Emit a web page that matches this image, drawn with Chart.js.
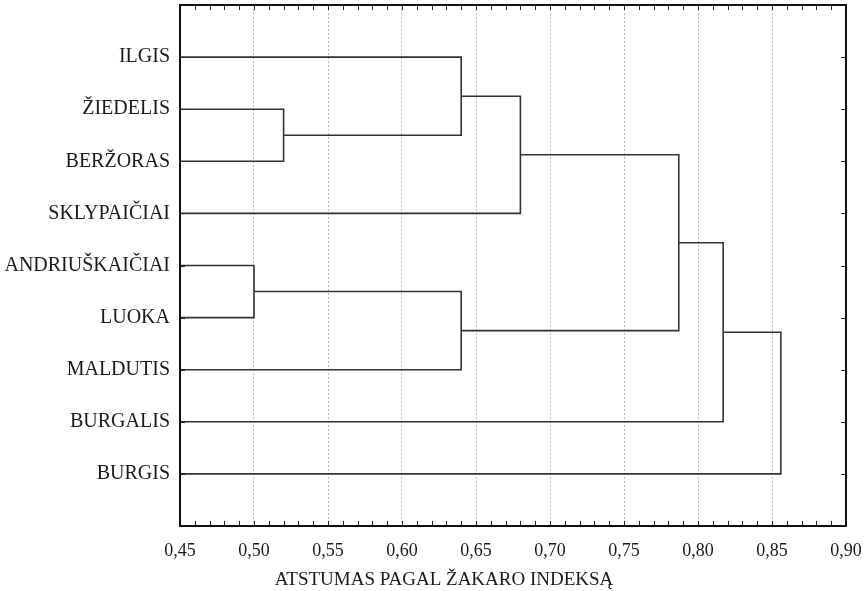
<!DOCTYPE html>
<html>
<head>
<meta charset="utf-8">
<script src="https://cdn.jsdelivr.net/npm/chart.js@4"></script>
<style>
  body { margin: 0; background: #fff; }
  canvas { display: block; }
</style>
</head>
<body>
<canvas id="dendrogram" width="868" height="591"></canvas>
<script>
// leaf order as drawn top to bottom
const leaves = ['ILGIS', 'ŽIEDELIS', 'BERŽORAS', 'SKLYPAIČIAI', 'ANDRIUŠKAIČIAI', 'LUOKA', 'MALDUTIS', 'BURGALIS', 'BURGIS'];

// linkage: node 9, 10, ... joins mergeA[i] with mergeB[i] at mergeHeight[i]
const mergeA = [1, 4, 0, 10, 11, 13, 14, 15];
const mergeB = [2, 5, 9, 6, 3, 12, 7, 8];
const mergeHeight = [0.52, 0.50, 0.64, 0.64, 0.68, 0.787, 0.817, 0.856];

const xTicks = [0.45, 0.50, 0.55, 0.60, 0.65, 0.70, 0.75, 0.80, 0.85, 0.90];
const axisTitle = 'ATSTUMAS PAGAL ŽAKARO INDEKSĄ';

const serif = '"Liberation Serif", "DejaVu Serif", serif';

// height and row position of every node (leaves first)
const nodeX = leaves.map(() => 0);
const nodeY = leaves.map((_, i) => i + 1);
mergeA.forEach((a, i) => {
    const b = mergeB[i];
    nodeX.push(mergeHeight[i]);
    nodeY.push((nodeY[a] + nodeY[b]) / 2);
});

// one elbow path per link
const links = mergeA.map((a, i) => {
    const b = mergeB[i];
    const h = mergeHeight[i];
    return {
        data: [
            {x: nodeX[a], y: nodeY[a]},
            {x: h, y: nodeY[a]},
            {x: h, y: nodeY[b]},
            {x: nodeX[b], y: nodeY[b]}
        ],
        showLine: true,
        borderColor: '#333',
        borderWidth: 1.6,
        pointRadius: 0,
        tension: 0
    };
});

const noPadding = scale => {
    scale.paddingTop = 0;
    scale.paddingBottom = 0;
    scale.paddingLeft = 0;
    scale.paddingRight = 0;
};

// box around the plot, small inward ticks and the axis caption
const frame = {
    id: 'frame',
    afterDatasetsDraw(chart) {
        const {ctx, chartArea: a, scales} = chart;
        ctx.save();
        ctx.strokeStyle = '#222';
        ctx.lineWidth = 1;
        for (let k = 45; k <= 90; k++) {
            const px = Math.round(scales.x.getPixelForValue(k / 100)) + 0.5;
            ctx.beginPath();
            ctx.moveTo(px, a.top); ctx.lineTo(px, a.top + 5);
            ctx.moveTo(px, a.bottom); ctx.lineTo(px, a.bottom - 5);
            ctx.stroke();
        }
        leaves.forEach((_, i) => {
            const py = Math.round(scales.y.getPixelForValue(i + 1)) + 0.5;
            ctx.beginPath();
            ctx.moveTo(a.right, py); ctx.lineTo(a.right - 5, py);
            ctx.moveTo(a.left, py); ctx.lineTo(a.left + 5, py);
            ctx.stroke();
        });
        ctx.lineWidth = 2;
        ctx.strokeStyle = '#111';
        ctx.strokeRect(a.left, a.top, a.right - a.left, a.bottom - a.top);

        ctx.fillStyle = '#1a1a1a';
        ctx.font = '19px ' + serif;
        ctx.textAlign = 'center';
        ctx.textBaseline = 'middle';
        ctx.fillText(axisTitle, a.left + 264, a.bottom + 54);
        ctx.restore();
    }
};

new Chart(document.getElementById('dendrogram'), {
    type: 'scatter',
    data: { datasets: links },
    options: {
        responsive: false,
        animation: false,
        layout: { padding: { left: 0, right: 22, top: 5, bottom: 25 } },
        plugins: {
            legend: { display: false },
            tooltip: { enabled: false }
        },
        scales: {
            x: {
                type: 'linear',
                min: xTicks[0],
                max: xTicks[xTicks.length - 1],
                afterBuildTicks: scale => { scale.ticks = xTicks.map(v => ({value: v})); },
                afterFit: scale => { scale.height = 40; noPadding(scale); },
                border: { display: false, dash: [2, 2] },
                grid: {
                    color: '#bdbdbd',
                    lineWidth: 1,
                    drawTicks: false
                },
                ticks: {
                    padding: 14,
                    color: '#1a1a1a',
                    font: { family: serif, size: 18 },
                    callback: v => v.toFixed(2).replace('.', ',')
                }
            },
            y: {
                type: 'linear',
                reverse: true,
                min: 0,
                max: leaves.length + 1,
                afterBuildTicks: scale => { scale.ticks = leaves.map((_, i) => ({value: i + 1})); },
                afterFit: scale => { scale.width = 180; noPadding(scale); },
                border: { display: false },
                grid: { display: false, drawTicks: false },
                ticks: {
                    padding: 10,
                    color: '#1a1a1a',
                    font: { family: serif, size: 20 },
                    callback: v => leaves[v - 1] || ''
                }
            }
        }
    },
    plugins: [frame]
});
</script>
</body>
</html>
